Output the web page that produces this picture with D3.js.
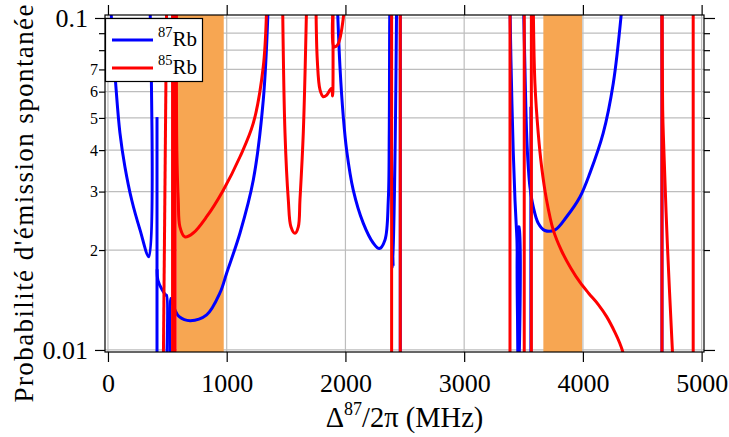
<!DOCTYPE html>
<html><head><meta charset="utf-8">
<script src="https://cdn.jsdelivr.net/npm/d3@7"></script>
<style>
body{margin:0;background:#fff}
svg{display:block}
</style>
</head><body><svg id="c" width="729" height="437"></svg>
<script>
// ---- data ----
const xTicks = [0, 1000, 2000, 3000, 4000, 5000];
const yMajorTicks = [0.01, 0.1];
const yMinorTicks = [0.02, 0.03, 0.04, 0.05, 0.06, 0.07, 0.08, 0.09];
const yMinorLabels = ["2", "3", "4", "5", "6", "7", "", ""];
const bands = [[580, 975], [3667, 3993]];
const TOP = 0.11, BOT = 0.0088; // values beyond the visible range (clipped)

const rb87 = [
  [[22,TOP],[67,0.062],[101,0.045],[143,0.0356],[200,0.0283],[270,0.023],[345,0.0191],[354,TOP]],
  [[413,0.0503],[413,BOT]],
  [[414,0.0175],[421,0.0162],[455,0.0152],[490,0.0146],[494,0.0146],[494,BOT]],
  [[526,BOT],[528,0.0143],[564,0.0132],[600,0.0126],[691,0.01225],[831,0.01275],[943,0.01485],[1000,0.01706],[1112,0.02251],[1224,0.0325],[1308,0.0566],[1350,TOP]],
  [[1932,TOP],[1954,0.0713],[1982,0.0504],[2010,0.04],[2066,0.0303],[2150,0.0241],[2234,0.021],[2285,0.0202],[2333,0.02145],[2361,0.0283],[2369,0.045],[2375,TOP],[2403,0.0178],[2431,TOP]],
  [[2462,TOP],[2462,BOT]],
  [[3386,TOP],[3394,0.0747],[3413,0.04],[3428,0.0283],[3442,0.0225],[3451,0.0187],[3453,BOT]],
  [[3457,BOT],[3457,0.0235],[3462,0.0235],[3462,BOT]],
  [[3500,TOP],[3511,0.073],[3526,0.045],[3540,0.0356],[3554,0.031],[3582,0.027],[3624,0.0241],[3680,0.0229],[3765,0.023],[3863,0.0252],[3975,0.0289],[4059,0.0341],[4171,0.045],[4256,0.0636],[4331,TOP]],
  [[3562,0.054],[3562,BOT]],
  [[4666,TOP],[4666,BOT]]
];

const rb85 = [
  [[494,TOP],[466,BOT]],
  [[544,TOP],[544,BOT]],
  [[566,TOP],[566,BOT]],
  [[577,TOP],[580,0.04],[592,0.0283],[606,0.0235],[648,0.0219],[718,0.0225],[831,0.0252],[971,0.0303],[1112,0.0382],[1224,0.0482],[1308,0.0713],[1337,TOP]],
  [[1471,TOP],[1491,0.045],[1519,0.0283],[1541,0.0235],[1575,0.02246],[1603,0.0235],[1617,0.0283],[1645,0.045],[1673,TOP]],
  [[1752,TOP],[1763,0.0747],[1786,0.0607],[1813,0.0579],[1842,0.0586],[1870,0.0607],[1884,0.0614],[1892,0.0582],[1894,TOP]],
  [[1898,TOP],[1903,0.082],[1934,0.083],[1982,0.1],[1986,TOP]],
  [[2389,TOP],[2389,BOT]],
  [[2462,TOP],[2462,BOT]],
  [[3386,TOP],[3386,BOT]],
  [[3506,TOP],[3506,BOT]],
  [[3566,TOP],[3566,BOT]],
  [[3582,TOP],[3596,0.0636],[3624,0.0449],[3652,0.0357],[3694,0.0283],[3750,0.023],[3820,0.0199],[3900,0.0176],[3975,0.0160],[4050,0.0148],[4130,0.0137],[4200,0.0126],[4270,0.0113],[4310,0.0105],[4335,0.0099],[4345,0.0094]],
  [[4666,TOP],[4666,BOT]],
  [[4666,TOP],[4672,0.0528],[4680,0.0419],[4711,0.021],[4756,0.0096]],
  [[4929,TOP],[4929,BOT]]
];

// ---- layout ----
const FONT = "Liberation Serif";
const svg = d3.select("#c");
const x = d3.scaleLinear().domain([-25, 5020]).range([105, 704]);
const y = d3.scaleLog().domain([0.00986, 0.1021]).range([352, 15]);
const [x0, x1] = x.range();
const [yb, yt] = y.range();

svg.append("rect").attr("width", 729).attr("height", 437).attr("fill", "#fff");

// grid
const grid = svg.append("g").attr("stroke", "#bdbdbd").attr("stroke-width", 1.2);
grid.selectAll(".gx").data(xTicks).join("line")
  .attr("x1", d => x(d)).attr("x2", d => x(d)).attr("y1", yt).attr("y2", yb);
grid.selectAll(".gy").data(yMajorTicks.concat(yMinorTicks)).join("line")
  .attr("y1", d => y(d)).attr("y2", d => y(d)).attr("x1", x0).attr("x2", x1);

// bands
svg.append("g").selectAll("rect").data(bands).join("rect")
  .attr("x", d => x(d[0])).attr("width", d => x(d[1]) - x(d[0]))
  .attr("y", yt).attr("height", yb - yt).attr("fill", "#f7a652");

// curves
svg.append("clipPath").attr("id", "clip").append("rect")
  .attr("x", x0).attr("y", yt).attr("width", x1 - x0).attr("height", yb - yt);
const line = d3.line().x(d => x(d[0])).y(d => y(d[1])).curve(d3.curveCatmullRom.alpha(0.5));
const plot = svg.append("g").attr("clip-path", "url(#clip)");
plot.append("g").selectAll("path").data(rb87).join("path")
  .attr("d", line).attr("fill", "none").attr("stroke", "#0000ff").attr("stroke-width", 3)
  .attr("stroke-linejoin", "round");
plot.append("g").selectAll("path").data(rb85).join("path")
  .attr("d", line).attr("fill", "none").attr("stroke", "#ff0000").attr("stroke-width", 3)
  .attr("stroke-linejoin", "round");

// frame
svg.append("rect").attr("x", x0).attr("y", yt).attr("width", x1 - x0).attr("height", yb - yt)
  .attr("fill", "none").attr("stroke", "#000").attr("stroke-width", 1.2);

function styleAxis(g, fs) {
  g.attr("font-family", FONT).attr("font-size", fs);
  g.select(".domain").remove();
  g.selectAll(".tick line").attr("stroke", "#000").attr("stroke-width", 1.2);
  g.selectAll(".tick text").attr("font-family", FONT).attr("font-size", fs).attr("fill", "#000");
}
// x axes
svg.append("g").attr("transform", `translate(0,${yb})`)
  .call(d3.axisBottom(x).tickValues(xTicks).tickSize(10).tickPadding(12).tickFormat(d3.format("d")))
  .call(g => styleAxis(g, 26));
svg.append("g").attr("transform", `translate(0,${yt})`)
  .call(d3.axisTop(x).tickValues(xTicks).tickSize(10).tickFormat(""))
  .call(g => styleAxis(g, 26));
// y axes
svg.append("g").attr("transform", `translate(${x0},0)`)
  .call(d3.axisLeft(y).tickValues(yMajorTicks).tickSize(10).tickPadding(7).tickFormat(d => d === 0.1 ? "0.1" : "0.01"))
  .call(g => styleAxis(g, 26));
svg.append("g").attr("transform", `translate(${x0},0)`)
  .call(d3.axisLeft(y).tickValues(yMinorTicks).tickSize(6).tickPadding(1).tickFormat((d, i) => yMinorLabels[i]))
  .call(g => styleAxis(g, 16));
svg.append("g").attr("transform", `translate(${x1},0)`)
  .call(d3.axisRight(y).tickValues(yMajorTicks).tickSize(11).tickFormat(""))
  .call(g => styleAxis(g, 16));
svg.append("g").attr("transform", `translate(${x1},0)`)
  .call(d3.axisRight(y).tickValues(yMinorTicks).tickSize(6).tickFormat(""))
  .call(g => styleAxis(g, 16));

// axis titles
const xt = svg.append("text").attr("x", (x0 + x1) / 2).attr("y", 427)
  .attr("text-anchor", "middle").attr("font-family", FONT).attr("font-size", 28.5);
xt.append("tspan").text("Δ");
xt.append("tspan").attr("dy", -12).attr("font-size", 18).text("87");
xt.append("tspan").attr("dy", 12).text("/2π (MHz)");

svg.append("text").attr("transform", `translate(33,${(yb + yt) / 2 + 20}) rotate(-90)`)
  .attr("text-anchor", "middle").attr("font-family", FONT).attr("font-size", 27)
  .attr("textLength", 398)
  .text("Probabilité d'émission spontanée");

// legend
const lg = svg.append("g");
lg.append("rect").attr("x", 105.5).attr("y", 18.5).attr("width", 97).attr("height", 63)
  .attr("fill", "#fff").attr("stroke", "#000").attr("stroke-width", 1.2);
const leg = [{c: "#0000ff", s: "87", yy: 40}, {c: "#ff0000", s: "85", yy: 68}];
leg.forEach(l => {
  lg.append("line").attr("x1", 112).attr("x2", 153).attr("y1", l.yy).attr("y2", l.yy)
    .attr("stroke", l.c).attr("stroke-width", 3);
  const t = lg.append("text").attr("x", 158).attr("y", l.yy + 6).attr("font-family", FONT).attr("font-size", 21);
  t.append("tspan").attr("dy", -9).attr("font-size", 14.5).text(l.s);
  t.append("tspan").attr("dy", 9).text("Rb");
});
</script>
</body></html>
